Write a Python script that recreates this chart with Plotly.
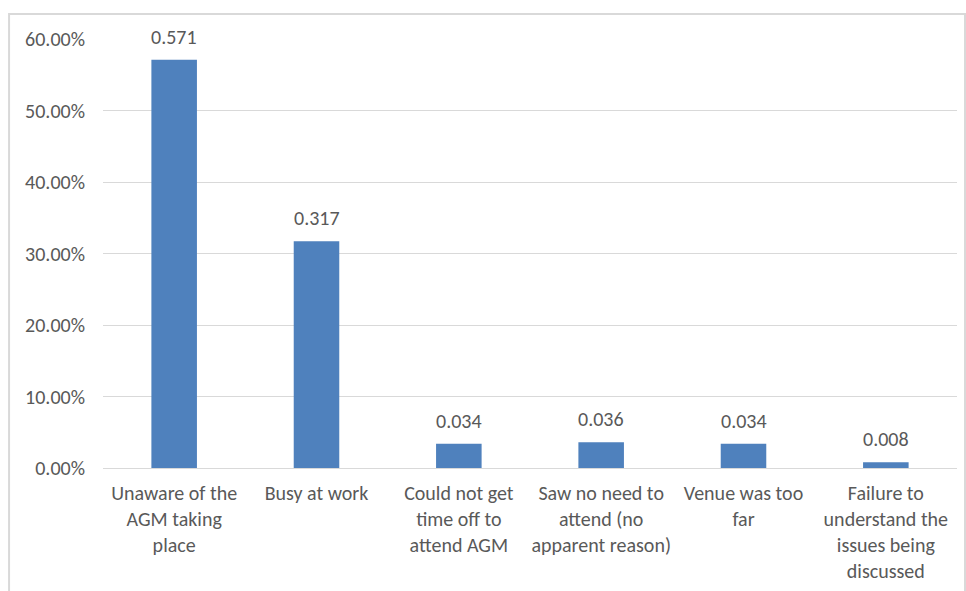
import plotly.graph_objects as go

# Reasons for not attending the AGM (share of respondents)
categories = [
    "Unaware of the<br>AGM taking<br>place",
    "Busy at work",
    "Could not get<br>time off to<br>attend AGM",
    "Saw no need to<br>attend (no<br>apparent reason)",
    "Venue was too<br>far",
    "Failure to<br>understand the<br>issues being<br>discussed",
]
values = [0.571, 0.317, 0.034, 0.036, 0.034, 0.008]
y_ticks = [0, 0.1, 0.2, 0.3, 0.4, 0.5, 0.6]

FONT = "Carlito, Lato, 'Liberation Sans', sans-serif"
TEXT_COLOR = "#595959"
BAR_COLOR = "#4F81BD"
GRID_COLOR = "#D9D9D9"
FONT_SIZE = 20

fig = go.Figure(
    go.Bar(
        x=categories,
        y=values,
        marker=dict(color=BAR_COLOR, line=dict(width=0)),
        hoverinfo="skip",
    )
)

# value labels above each bar
for cat, val in zip(categories, values):
    fig.add_annotation(
        x=cat, y=val, text=f"{val:.3f}",
        showarrow=False, yanchor="bottom", yshift=9,
        font=dict(family=FONT, size=FONT_SIZE, color=TEXT_COLOR),
    )

# outer chart frame
fig.add_shape(
    type="rect", xref="paper", yref="paper",
    x0=-0.110, x1=1.0094, y0=-0.4, y1=1.0583,
    line=dict(color="#D9D9D9", width=2), fillcolor="rgba(0,0,0,0)",
    layer="below",
)

fig.update_layout(
    width=966, height=591,
    margin=dict(l=103, r=9, t=39, b=123),
    paper_bgcolor="white", plot_bgcolor="white",
    bargap=0.68,
    showlegend=False,
    font=dict(family=FONT, size=FONT_SIZE, color=TEXT_COLOR),
    xaxis=dict(
        showgrid=False, showline=False, ticks="",
        tickfont=dict(family=FONT, size=FONT_SIZE, color=TEXT_COLOR),
        ticklabelstandoff=11,
    ),
    yaxis=dict(
        range=[0, 0.6], tickvals=y_ticks, tickformat=".2%",
        showgrid=True, gridcolor=GRID_COLOR, gridwidth=1,
        zeroline=True, zerolinecolor=GRID_COLOR, zerolinewidth=1,
        showline=False, ticks="",
        tickfont=dict(family=FONT, size=FONT_SIZE, color=TEXT_COLOR),
        ticklabelstandoff=17,
    ),
)

fig.write_html("out.html")
